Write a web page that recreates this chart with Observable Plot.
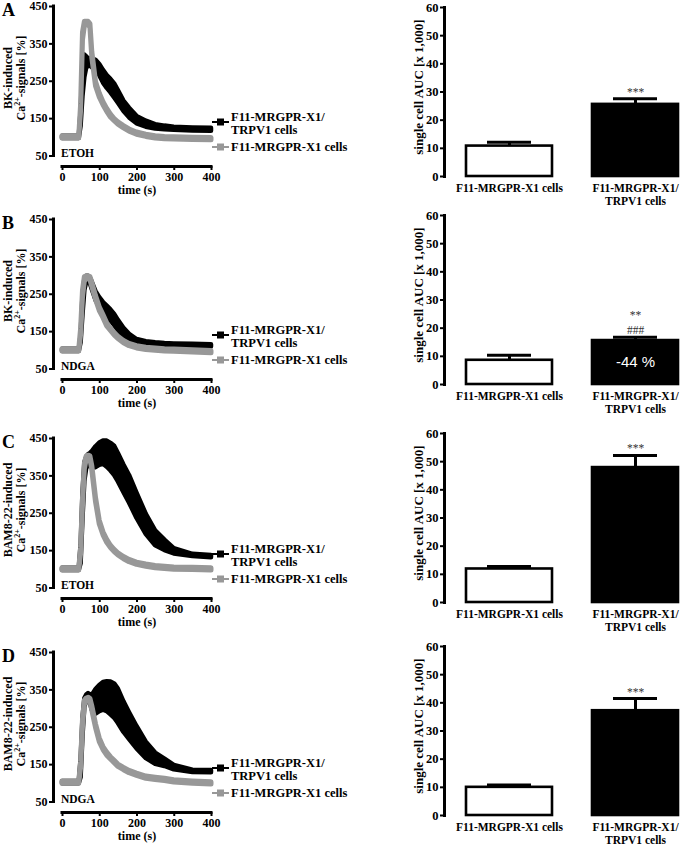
<!DOCTYPE html>
<html><head><meta charset="utf-8">
<script src="https://cdn.jsdelivr.net/npm/d3@7"></script>
<script src="https://cdn.jsdelivr.net/npm/@observablehq/plot@0.6"></script>
<style>
body{margin:0;background:#fff;}
#fig{position:relative;width:683px;height:845px;overflow:hidden;background:#fff;
  font-family:"Liberation Serif","Times New Roman",serif;font-weight:bold;color:#000;}
.abs{position:absolute;white-space:nowrap;}
.ctr{position:absolute;white-space:nowrap;transform:translate(-50%,-50%);}
.rot{position:absolute;white-space:nowrap;text-align:center;transform:translate(-50%,-50%) rotate(-90deg);}
</style></head>
<body><div id="fig"></div>
<script>
// ---------- data ----------
const times = [0, 20, 40, 45, 50, 55, 60, 65, 70, 75, 80, 90, 100, 110, 120, 130, 140, 150, 165, 180, 200, 225, 250, 275, 300, 350, 400];

const blackMeanA = [100,100,100,100,150,250,290,300,300,300,298,292,280,262,248,237,224,208,183,165,146,135,128,125,123,121,120];
const blackSemA  = [3,3,3,3,20,40,30,15,10,10,12,14,15,17,17,18,19,17,14,13,10,8,6,5,4,4,4];
const grayMeanA  = [100,100,100,100,180,370,403,405,405,398,320,242,212,190,172,157,146,137,127,118,110,104,100,98,97,96,95];
const graySemA   = [3,3,3,3,8,10,6,4,4,5,8,6,5,4,4,4,3,3,3,3,3,3,3,3,3,3,3];

const blackMeanB = [100,100,100,100,130,220,275,290,292,285,272,245,228,213,203,193,181,166,147,133,122,118,116,115,114,113,112];
const blackSemB  = [3,3,3,3,10,25,15,8,6,8,10,12,13,15,15,15,15,14,12,10,7,5,4,3,3,3,3];
const grayMeanB  = [100,100,100,100,150,250,290,294,294,292,275,240,210,190,168,155,143,133,122,114,108,104,102,100,99,97,95];
const graySemB   = [3,3,3,3,8,10,6,4,4,4,6,5,5,4,4,3,3,3,3,3,3,3,3,3,3,3,3];

const blackMeanC = [100,100,100,100,140,270,360,385,392,392,393,400,408,412,408,400,390,372,342,314,270,220,183,164,148,137,134];
const blackSemC  = [3,3,3,3,25,35,25,15,15,18,22,28,30,31,35,37,39,38,37,37,34,27,20,14,7,3,3];
const grayMeanC  = [100,100,100,100,150,280,375,398,400,398,370,285,225,195,175,160,149,140,130,122,115,110,106,104,102,101,100];
const graySemC   = [3,3,3,3,8,10,8,4,4,4,6,6,5,4,4,3,3,3,3,3,3,3,3,3,3,3,3];

const blackMeanD = [102,102,102,102,140,250,315,328,332,325,315,318,327,333,332,327,320,306,277,253,222,188,166,155,142,132,131];
const blackSemD  = [3,3,3,3,25,25,12,8,8,12,20,33,35,37,40,44,46,46,41,36,30,22,15,10,6,3,3];
const grayMeanD  = [102,102,102,102,150,260,315,323,325,322,300,253,215,193,178,167,157,147,138,130,123,115,112,109,105,102,100];
const graySemD   = [3,3,3,3,8,10,6,4,4,4,6,5,5,4,4,3,3,3,3,3,3,3,3,3,3,3,3];

const seriesNames = ["F11-MRGPR-X1/ TRPV1 cells", "F11-MRGPR-X1 cells"];
const barCategories = ["F11-MRGPR-X1 cells", "F11-MRGPR-X1/ TRPV1 cells"];

const aucA = [10.8, 25.6], aucSemA = [1.4, 2.0];
const aucB = [8.6, 15.6],  aucSemB = [1.8, 1.2];
const aucC = [11.9, 47.9], aucSemC = [0.9, 4.3];
const aucD = [10.0, 37.2], aucSemD = [0.8, 4.3];

const sigA = ["", "***"], sigB = ["", "**\n###"], sigC = ["", "***"], sigD = ["", "***"];
const innerB = ["", "-44 %"];

const panelLetters = ["A", "B", "C", "D"];
const stimulusLabels = ["BK-induced", "BK-induced", "BAM8-22-induced", "BAM8-22-induced"];
const treatmentLabels = ["ETOH", "NDGA", "ETOH", "NDGA"];
const timeTicks = [0, 100, 200, 300, 400];
const signalTicks = [50, 150, 250, 350, 450];
const aucTicks = [0, 10, 20, 30, 40, 50, 60];
const timeDomain = [0, 400];
const signalDomain = [50, 450];
const aucDomain = [0, 60];

// ---------- layout ----------
const GRAY = "#989898";
const leftTops = [6, 219, 438, 652];
const barTops = [7, 215, 433, 646];
const fig = document.getElementById("fig");

function place(el, left, top) {
  const d = document.createElement("div");
  d.style.cssText = `position:absolute;left:${left}px;top:${top}px;`;
  d.appendChild(el);
  fig.appendChild(d);
}
function addHTML(cls, html, css) {
  const d = document.createElement("div");
  d.className = cls;
  d.innerHTML = html;
  d.style.cssText += css;
  fig.appendChild(d);
  return d;
}

function tracePlot(bm, bs, gm, gs) {
  const rows = (m, s) => times.map((t, i) => ({t, lo: m[i] - s[i], hi: m[i] + s[i]}));
  return Plot.plot({
    width: 340, height: 200,
    marginTop: 6, marginLeft: 53, marginRight: 129, marginBottom: 34,
    style: {fontFamily: "Liberation Serif", fontSize: "12px", fontWeight: "bold", background: "none", color: "#000"},
    x: {domain: timeDomain, insetLeft: 9},
    y: {domain: signalDomain, insetBottom: 10.5},
    marks: [
      Plot.areaY(rows(bm, bs), {x: "t", y1: "lo", y2: "hi", fill: "#000", stroke: "#000", strokeWidth: 4.5, strokeLinejoin: "round"}),
      Plot.areaY(rows(gm, gs), {x: "t", y1: "lo", y2: "hi", fill: GRAY, stroke: GRAY, strokeWidth: 5, strokeLinejoin: "round"}),
      Plot.ruleX([timeDomain[0]], {y1: signalDomain[0], y2: signalDomain[1], dx: -9, strokeWidth: 3, strokeLinecap: "square"}),
      Plot.ruleY([signalDomain[0]], {x1: timeDomain[0], x2: timeDomain[1], dy: 10.5, strokeWidth: 3, strokeLinecap: "square"}),
      Plot.axisY({ticks: signalTicks, tickSize: 4, tickPadding: 2, strokeWidth: 2, label: null}),
      Plot.axisX({ticks: timeTicks, tickSize: 4, tickPadding: 2, strokeWidth: 2, label: null})
    ]
  });
}

function barPlot(vals, sems, sigs, inner) {
  const data = barCategories.map((c, i) => ({c, v: vals[i], e: sems[i], sig: sigs[i], inner: inner ? inner[i] : ""}));
  return Plot.plot({
    width: 288, height: 215,
    marginTop: 7, marginBottom: 39, marginLeft: 49, marginRight: 0,
    style: {fontFamily: "Liberation Serif", fontSize: "12.5px", fontWeight: "bold", background: "none", color: "#000"},
    x: {type: "band", domain: barCategories, range: [70, 284], paddingInner: 0.3135, paddingOuter: 0},
    y: {domain: aucDomain},
    color: {type: "ordinal", domain: barCategories, range: ["#ffffff", "#000000"]},
    marks: [
      Plot.barY(data, {x: "c", y: "v", fill: "c", stroke: "#000", strokeWidth: 2.6}),
      Plot.ruleX(data, {x: "c", y1: "v", y2: d => d.v + d.e, strokeWidth: 3}),
      Plot.tickY(data, {x: "c", y: d => d.v + d.e, strokeWidth: 3, insetLeft: 21, insetRight: 21}),
      Plot.text(data.filter(d => d.sig), {x: "c", y: d => d.v + d.e, text: "sig", lineAnchor: "bottom", dy: -3,
        fontWeight: "normal", fontSize: 11.5, lineHeight: 1.3, fill: "#333"}),
      Plot.text(data.filter(d => d.inner), {x: "c", y: d => d.v / 2, text: "inner", fill: "#fff",
        fontFamily: "Liberation Sans", fontWeight: "normal", fontSize: 15}),
      Plot.frame({anchor: "left", strokeWidth: 3}),
      Plot.axisY({ticks: aucTicks, tickSize: 4, tickPadding: 2, strokeWidth: 2, label: null}),
      Plot.axisX({tickSize: 0, tickPadding: 6, label: null, fontSize: 11.5, lineHeight: 1.12,
        tickFormat: d => d.replace("/ ", "/\n")})
    ]
  });
}

const traces = [
  [blackMeanA, blackSemA, grayMeanA, graySemA],
  [blackMeanB, blackSemB, grayMeanB, graySemB],
  [blackMeanC, blackSemC, grayMeanC, graySemC],
  [blackMeanD, blackSemD, grayMeanD, graySemD]
];
const bars = [
  [aucA, aucSemA, sigA, null],
  [aucB, aucSemB, sigB, innerB],
  [aucC, aucSemC, sigC, null],
  [aucD, aucSemD, sigD, null]
];

function marker(color) {
  return `<svg width="17" height="10" style="display:block"><line x1="0" y1="5" x2="17" y2="5" stroke="${color}" stroke-width="2"/><rect x="5" y="1.5" width="7" height="7" fill="${color}"/></svg>`;
}

for (let r = 0; r < 4; r++) {
  const lt = leftTops[r], bt = barTops[r];
  place(tracePlot(...traces[r]), 0, lt - 6);
  place(barPlot(...bars[r]), 395, bt - 7);

  // panel letter
  addHTML("abs", panelLetters[r], `left:2px;top:${lt - 6}px;font-size:18px;line-height:normal;`);
  // y title (left)
  addHTML("rot", `${stimulusLabels[r]}<br>Ca<span style="font-size:8px;position:relative;top:-5px">2+</span>-signals [%]`,
    `left:15px;top:${lt + 72}px;font-size:12px;line-height:13px;`);
  // treatment label
  addHTML("abs", treatmentLabels[r], `left:61px;top:${lt + 140}px;font-size:11.5px;line-height:14px;`);
  // x title
  addHTML("ctr", "time (s)", `left:137px;top:${lt + 184}px;font-size:12px;`);
  // legend
  addHTML("abs", marker("#000"), `left:212px;top:${lt + 111}px;`);
  addHTML("abs", seriesNames[0].replace("/ ", "/<br>"), `left:231px;top:${lt + 105}px;font-size:12.5px;line-height:13px;`);
  addHTML("abs", marker(GRAY), `left:212px;top:${lt + 136}px;`);
  addHTML("abs", seriesNames[1], `left:231px;top:${lt + 133}px;font-size:12.5px;line-height:16px;`);
  // bar y title
  addHTML("rot", "single cell AUC [x 1,000]", `left:419px;top:${bt + 80}px;font-size:13px;`);
}
</script></body></html>
